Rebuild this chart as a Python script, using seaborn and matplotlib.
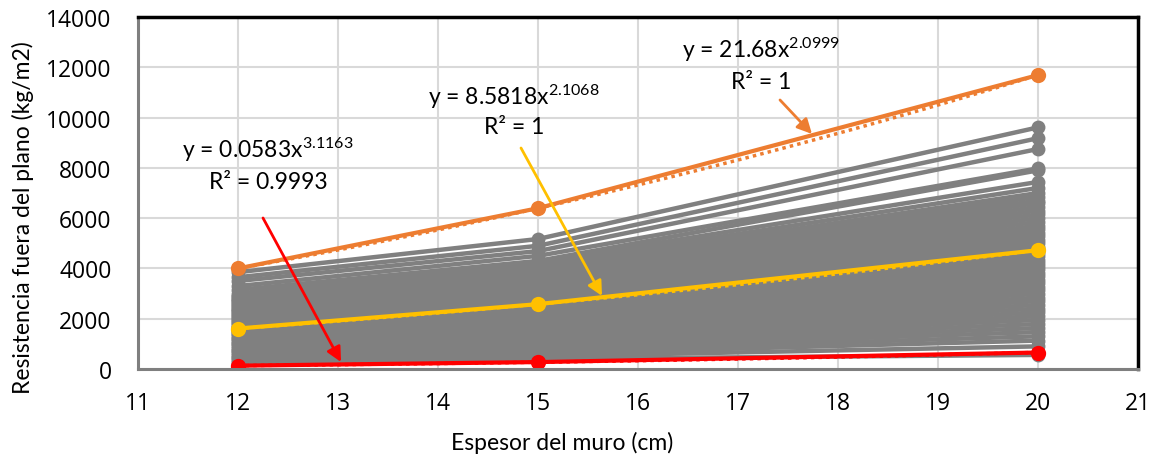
import numpy as np
import pandas as pd
import matplotlib
matplotlib.use("Agg")
import matplotlib.pyplot as plt
import seaborn as sns

# ---------------- data ----------------
espesor = [12, 15, 20]

gris_12 = [3850, 3650, 3500, 3300, 3150, 3000, 2900, 2850, 2800, 2740,
           2690, 2630, 2580, 2520, 2460, 2400, 2340, 2290, 2230, 2170,
           2110, 2050, 1990, 1930, 1870, 1810, 1750, 1690, 1630, 1570,
           1500, 1440, 1380, 1310, 1250, 1180, 1120, 1050, 980, 910,
           840, 770, 700, 630, 560, 490, 420, 350, 280, 210, 150]
gris_15 = [5170, 4900, 4690, 4500, 4300, 4250, 4150, 4050, 3950, 3880,
           3800, 3720, 3650, 3570, 3490, 3410, 3330, 3250, 3170, 3090,
           3010, 2930, 2850, 2770, 2690, 2610, 2530, 2450, 2370, 2290,
           2200, 2120, 2040, 1950, 1870, 1780, 1700, 1610, 1520, 1430,
           1340, 1250, 1160, 1070, 980, 890, 800, 700, 600, 500, 400]
gris_20 = [9610, 9180, 8750, 7980, 7900, 7440, 7200, 7000, 6850, 6700,
           6600, 6450, 6300, 6150, 6000, 5850, 5700, 5560, 5420, 5280,
           5140, 5000, 4870, 4740, 4610, 4480, 4350, 4220, 4090, 3960,
           3820, 3690, 3550, 3410, 3270, 3130, 2990, 2840, 2700, 2550,
           2400, 2250, 2100, 1950, 1790, 1630, 1470, 1300, 1130, 900, 560]

naranja = [4000, 6395, 11690]
amarillo = [1610, 2580, 4725]
rojo = [132, 275, 655]

x_ticks = list(range(11, 22))
y_ticks = list(range(0, 14001, 2000))

ec_naranja = ["y = 21.68x$^{\\mathrm{2.0999}}$", "R² = 1"]
ec_amarillo = ["y = 8.5818x$^{\\mathrm{2.1068}}$", "R² = 1"]
ec_rojo = ["y = 0.0583x$^{\\mathrm{3.1163}}$", "R² = 0.9993"]

x_label = "Espesor del muro (cm)"
y_label = "Resistencia fuera del plano (kg/m2)"

# ---------------- style ----------------
sns.set_theme(style="white")
plt.rcParams["font.family"] = ["Lato", "DejaVu Sans"]
plt.rcParams["mathtext.fontset"] = "custom"
plt.rcParams["mathtext.rm"] = "Lato"
plt.rcParams["mathtext.it"] = "Lato:italic"
plt.rcParams["mathtext.bf"] = "Lato:bold"

C_GRAY = "#808080"
C_OR = "#ED7D31"
C_YE = "#FFC000"
C_RE = "#FF0000"

fig = plt.figure(figsize=(11.58, 4.60), dpi=100)
ax = fig.add_axes([138 / 1158, 90 / 460, 1000 / 1158, 352 / 460])

rows = []
for i, (a, b, c) in enumerate(zip(gris_12, gris_15, gris_20)):
    for x, y in zip(espesor, (a, b, c)):
        rows.append({"x": x, "y": y, "serie": i})
df_gris = pd.DataFrame(rows)

sns.lineplot(data=df_gris, x="x", y="y", units="serie", estimator=None,
             color=C_GRAY, lw=3.2, marker="o", markersize=10,
             markeredgewidth=0, sort=False, ax=ax, legend=False)

xs = np.linspace(12, 20, 200)
for vals, col in ((naranja, C_OR), (amarillo, C_YE), (rojo, C_RE)):
    d = pd.DataFrame({"x": espesor, "y": vals})
    sns.lineplot(data=d, x="x", y="y", color=col, lw=3, marker="o",
                 markersize=11, markeredgewidth=0, ax=ax, legend=False)
    b, loga = np.polyfit(np.log(espesor), np.log(vals), 1)
    ax.plot(xs, np.exp(loga) * xs ** b, color=col, lw=2.5,
            ls=(0, (1, 1.2)), zorder=4)

# ---------------- annotations ----------------
fs = 16.5
for (l1, l2), (cx, y1, y2) in (
    (ec_rojo, (12.30, 8750, 7440)),
    (ec_amarillo, (14.76, 10860, 9626)),
    (ec_naranja, (17.23, 12730, 11416)),
):
    ax.text(cx, y1, l1, ha="center", va="center", fontsize=fs, color="black")
    ax.text(cx, y2, l2, ha="center", va="center", fontsize=fs, color="black")

for (tip, start, col) in (
    ((13.03, 278), (12.25, 6006), C_RE),
    ((15.64, 2904), (14.83, 8790), C_YE),
    ((17.74, 9348), (17.42, 10700), C_OR),
):
    ax.annotate("", xy=tip, xytext=start,
                arrowprops=dict(arrowstyle="-|>", color=col, lw=2,
                                mutation_scale=22, shrinkA=0, shrinkB=0),
                zorder=6)

# ---------------- axes ----------------
ax.set_xlim(11, 21)
ax.set_ylim(0, 14000)
tick_font = dict(fontfamily="Open Sans", fontsize=16.5, color="black")
ax.set_xticks(x_ticks)
ax.set_xticklabels([str(v) for v in x_ticks], **tick_font)
ax.set_yticks(y_ticks)
ax.set_yticklabels([str(v) for v in y_ticks], **tick_font)
ax.grid(True, color="#d9d9d9", lw=1.5)
ax.set_axisbelow(True)
ax.tick_params(axis="both", length=0)
ax.xaxis.set_tick_params(pad=16)
ax.yaxis.set_tick_params(pad=19)

for s in ("top", "right"):
    ax.spines[s].set_color("black")
    ax.spines[s].set_linewidth(2.5)
for s in ("left", "bottom"):
    ax.spines[s].set_color("#7f7f7f")
    ax.spines[s].set_linewidth(2.2)

ax.set_xlabel(x_label, fontsize=16.5, color="black")
ax.set_ylabel(y_label, fontsize=16.5, color="black")
ax.xaxis.set_label_coords(0.424, -0.176)
ax.yaxis.set_label_coords(-0.104, 0.432)

fig.savefig("out.png", dpi=100)
